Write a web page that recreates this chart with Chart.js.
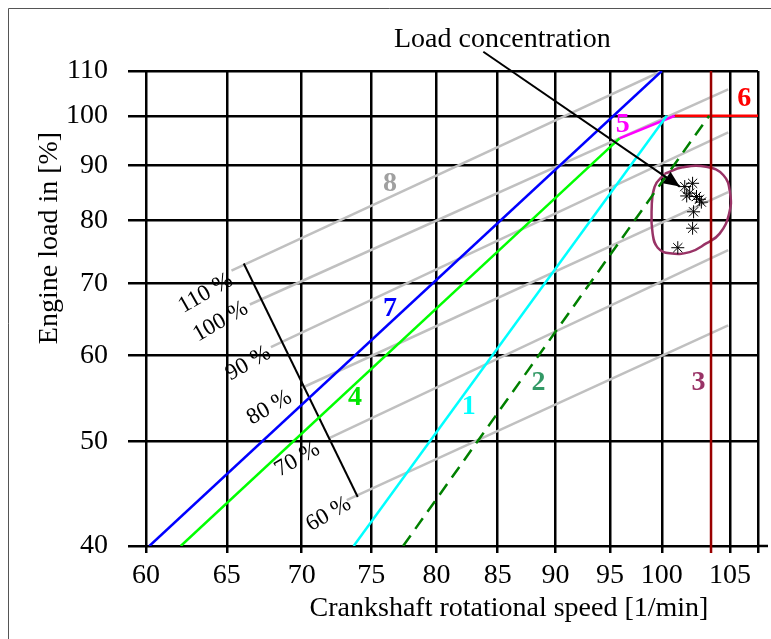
<!DOCTYPE html>
<html>
<head>
<meta charset="utf-8">
<script src="https://cdn.jsdelivr.net/npm/chart.js@4/dist/chart.umd.min.js"></script>
<style>
    html, body { margin: 0; padding: 0; background: #fff; }
    #wrap { position: relative; width: 771px; height: 639px; }
</style>
</head>
<body>
<div id="wrap"><canvas id="myChart" width="771" height="639"></canvas></div>
<script>
// axis ticks (the 105 label sits on the last grid line before the edge, as in the source figure)
var speedTicks = [60, 65, 70, 75, 80, 85, 90, 95, 100, 107, 110];
var speedTickLabels = ['60', '65', '70', '75', '80', '85', '90', '95', '100', '105', ''];
var loadTicks = [40, 50, 60, 70, 80, 90, 100, 110];
var loadTickLabels = ['40', '50', '60', '70', '80', '90', '100', '110'];

// limit lines, [speed, load]
var line1 = [[73.7, 40], [100.5, 100]];
var line2 = [[77.4, 40], [104.8, 100]];
var line3 = [[105, 39.4], [105, 110]];
var line4 = [[62.1, 40], [95.9, 95.3]];
var line5 = [[95.9, 95.3], [101.3, 100]];
var line6 = [[101.3, 100], [110, 100]];
var line7 = [[60.2, 40], [100, 110]];

// constant torque lines (8)
var torqueLevels = ['110 %', '100 %', '90 %', '80 %', '70 %', '60 %'];
var torqueStart = [[65.3, 71.9], [66.5, 66.9], [67.9, 61.1], [70.0, 56.0], [71.9, 50.3], [73.2, 44.1]];
var torqueEnd = [[100, 110], [106.8, 105.8], [106.8, 96.5], [106.8, 85.0], [106.8, 75.1], [106.8, 64.0]];
var torqueBoundary = [[66.1, 73.0], [74.0, 44.4]];

// measured operating points
var pointSpeed = [103.1, 102.3, 102.8, 102.5, 103.5, 103.8, 104.0, 103.2, 103.1, 101.6];
var pointLoad = [86.6, 86.0, 84.8, 84.3, 84.2, 83.7, 83.2, 81.5, 78.7, 75.5];

// outline round the load concentration
var outlineSpeed = [100.3, 102.1, 104.5, 106.3, 107.0, 106.9, 105.9, 104.5, 102.8, 100.8, 99.6, 99.1, 99.0, 99.3, 100.3];
var outlineLoad = [88.4, 89.6, 89.7, 88.1, 84.8, 81.2, 77.8, 76.2, 74.8, 74.6, 75.5, 77.8, 81.8, 86.0, 88.4];

// annotation
var noteText = 'Load concentration';
var noteAt = [85.4, 115.8];
var arrowFrom = [83.8, 114.6];
var arrowTo = [101.8, 86.0];

// line numbers and where they are written
var lineNames = ['1', '2', '3', '4', '5', '6', '7', '8'];
var lineNameAt = [[82.6, 53.8], [88.5, 56.6], [103.7, 56.6], [73.8, 54.9], [96.2, 98.0], [108.5, 103.6], [76.4, 66.3], [76.4, 86.6]];
var lineNameColors = ['#00ffff', '#339966', '#993366', '#00e600', '#ff00ff', '#ff0000', '#0000ff', '#a0a0a0'];
var torqueLabelAt = [[63.65, 68.5], [64.6, 64.5], [66.4, 59.0], [67.8, 53.7], [69.7, 48.1], [71.9, 42.8]];

var serif = "'Liberation Serif', 'Times New Roman', serif";

var toXY = function (pairs) {
    return pairs.map(function (p) { return { x: p[0], y: p[1] }; });
};

var lineSet = function (pairs, color, extra) {
    var ds = {
        data: toXY(pairs),
        showLine: true,
        borderColor: color,
        backgroundColor: color,
        borderWidth: 2.5,
        pointRadius: 0,
        order: 2
    };
    for (var k in extra) ds[k] = extra[k];
    return ds;
};

var datasets = [];
for (var i = 0; i < torqueLevels.length; i++) {
    datasets.push(lineSet([torqueStart[i], torqueEnd[i]], '#c0c0c0', { order: 10 }));
}
datasets.push(lineSet(torqueBoundary, '#000000', { borderWidth: 2, order: 9 }));
datasets.push(lineSet(line7, '#0000ff'));
datasets.push(lineSet(line4, '#00ff00'));
datasets.push(lineSet(line1, '#00ffff'));
datasets.push(lineSet(line2, '#008000', { borderDash: [13, 8] }));
datasets.push(lineSet(line3, '#990000', { clip: false }));
datasets.push(lineSet(line5, '#ff00ff'));
datasets.push(lineSet(line6, '#ff0000'));
datasets.push(lineSet(outlineSpeed.map(function (s, j) { return [s, outlineLoad[j]]; }), '#993366', { tension: 0.45 }));
datasets.push({
    data: pointSpeed.map(function (s, j) { return { x: s, y: pointLoad[j] }; }),
    showLine: false,
    pointStyle: 'star',
    pointRadius: 6.5,
    borderColor: '#000',
    backgroundColor: '#000',
    pointBorderWidth: 1,
    order: 1
});
var arrowIndex = datasets.length;
datasets.push(lineSet([arrowFrom, arrowTo], '#000000', { borderWidth: 2, clip: false, order: 0 }));

var overlay = {
    id: 'overlay',
    beforeDraw: function (chart) {
        var c = chart.ctx;
        c.save();
        c.strokeStyle = '#555';
        c.lineWidth = 1;
        c.beginPath();
        c.moveTo(8.5, 639);
        c.lineTo(8.5, 8.5);
        c.lineTo(771, 8.5);
        c.stroke();
        c.restore();
    },
    afterDatasetsDraw: function (chart) {
        var c = chart.ctx;
        var sx = chart.scales.x, sy = chart.scales.y;
        var area = chart.chartArea;

        // axis line runs a little past the right edge
        c.save();
        c.strokeStyle = '#000';
        c.lineWidth = 2.5;
        c.beginPath();
        c.moveTo(area.right, area.bottom);
        c.lineTo(area.right + 10, area.bottom);
        c.stroke();
        c.restore();

        // arrow head
        var pts = chart.getDatasetMeta(arrowIndex).data;
        var a = pts[0], b = pts[1];
        var ang = Math.atan2(b.y - a.y, b.x - a.x);
        c.save();
        c.fillStyle = '#000';
        c.translate(b.x, b.y);
        c.rotate(ang);
        c.beginPath();
        c.moveTo(0, 0);
        c.lineTo(-16, -7);
        c.lineTo(-16, 7);
        c.closePath();
        c.fill();
        c.restore();

        // note text
        c.save();
        c.fillStyle = '#000';
        c.font = '28px ' + serif;
        c.textAlign = 'center';
        c.textBaseline = 'alphabetic';
        c.fillText(noteText, sx.getPixelForValue(noteAt[0]), sy.getPixelForValue(noteAt[1]));
        c.restore();

        // line numbers
        c.save();
        c.font = 'bold 28px ' + serif;
        c.textAlign = 'center';
        c.textBaseline = 'middle';
        lineNames.forEach(function (name, j) {
            c.fillStyle = lineNameColors[j];
            c.fillText(name, sx.getPixelForValue(lineNameAt[j][0]), sy.getPixelForValue(lineNameAt[j][1]));
        });
        c.restore();

        // torque percentages
        torqueLevels.forEach(function (label, j) {
            c.save();
            c.fillStyle = '#000';
            c.font = '23px ' + serif;
            c.textAlign = 'center';
            c.textBaseline = 'middle';
            c.translate(sx.getPixelForValue(torqueLabelAt[j][0]), sy.getPixelForValue(torqueLabelAt[j][1]));
            c.rotate(-30 * Math.PI / 180);
            c.fillText(label, 0, 0);
            c.restore();
        });
    },
    afterDraw: function (chart) {
        var c = chart.ctx;
        c.save();
        c.fillStyle = '#000';
        c.font = '28px ' + serif;
        c.textAlign = 'center';
        c.textBaseline = 'alphabetic';
        c.fillText('Crankshaft rotational speed [1/min]', 509, 616);
        c.translate(57, 238);
        c.rotate(-Math.PI / 2);
        c.fillText('Engine load in [%]', 0, 0);
        c.restore();
    }
};

var ctx = document.getElementById('myChart').getContext('2d');

var chart = new Chart(ctx, {
    type: 'scatter',
    data: { datasets: datasets },
    plugins: [overlay],
    options: {
        responsive: false,
        animation: false,
        devicePixelRatio: 1,
        layout: { padding: { top: 71, right: 13, left: 0, bottom: 0 } },
        plugins: {
            legend: { display: false },
            tooltip: { enabled: false }
        },
        scales: {
            x: {
                type: 'logarithmic',
                min: 60,
                max: 110,
                afterBuildTicks: function (scale) {
                    scale.ticks = speedTicks.map(function (v) { return { value: v }; });
                },
                afterFit: function (scale) { scale.height = 93; },
                grid: { color: '#000', lineWidth: 2.5, tickLength: 7 },
                border: { display: false },
                ticks: {
                    autoSkip: false,
                    maxRotation: 0,
                    minRotation: 0,
                    padding: 6,
                    color: '#000',
                    font: { family: serif, size: 28 },
                    callback: function (value, index) { return speedTickLabels[index]; }
                }
            },
            y: {
                type: 'logarithmic',
                min: 40,
                max: 110,
                afterBuildTicks: function (scale) {
                    scale.ticks = loadTicks.map(function (v) { return { value: v }; });
                },
                afterFit: function (scale) { scale.width = 146; },
                grid: { color: '#000', lineWidth: 2.5, tickLength: 18 },
                border: { display: false },
                ticks: {
                    autoSkip: false,
                    padding: 20,
                    color: '#000',
                    font: { family: serif, size: 28 },
                    callback: function (value, index) { return loadTickLabels[index]; }
                }
            }
        }
    }
});
</script>
</body>
</html>
